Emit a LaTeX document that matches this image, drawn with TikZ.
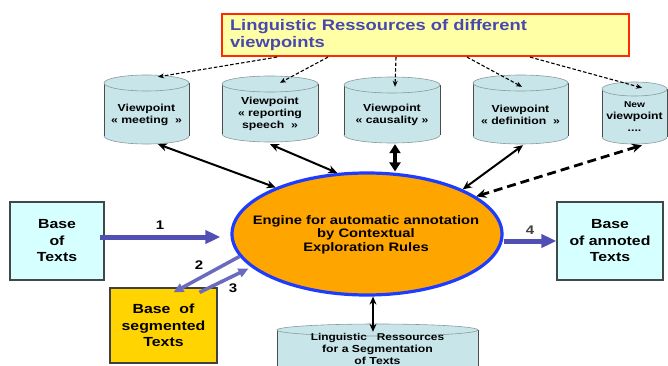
\documentclass[tikz,border=0pt]{standalone}
\usepackage{fontspec}
\newfontfamily\af[FakeStretch=1.2]{Liberation Sans}
\usetikzlibrary{shapes.geometric,arrows.meta,calc}
\definecolor{topfill}{HTML}{FFFFA5}
\definecolor{topline}{HTML}{FF2A00}
\definecolor{toptext}{HTML}{4848B0}
\definecolor{cylfill}{HTML}{C8E6EA}
\definecolor{cylborder}{HTML}{8A9A9C}
\definecolor{boxfill}{HTML}{D6FFFF}
\definecolor{boxline}{HTML}{404848}
\definecolor{segfill}{HTML}{FFD400}
\definecolor{engfill}{HTML}{FFA500}
\definecolor{engline}{HTML}{1E3CFF}
\definecolor{barrow}{HTML}{5050B4}
\newcommand\cyl[8]{%
  \node[cylend, minimum width=#5pt, minimum height=#6pt] at (#2,{#4-#6/2}) {};
  \fill[cylfill] ({#2-#5/2},{#3+#6/2}) rectangle ({#2+#5/2},{#4-#6/2});
  \draw[cylside] ({#2-#5/2},{#3+#6/2}) -- ({#2-#5/2},{#4-#6/2}) ({#2+#5/2},{#3+#6/2}) -- ({#2+#5/2},{#4-#6/2});
  \node[cylend, minimum width=#5pt, minimum height=#6pt] at (#2,{#3+#6/2}) {};
  \node[inner sep=0pt, minimum width=#5pt, minimum height={(#4-#3)*1pt}] (#1) at (#2,{(#3+#4)/2}) {};
  \node[cyltext] (#1t) at (#2,#8) {#7};
}
\begin{document}
\begin{tikzpicture}[x=1pt,y=-1pt,
  cylend/.style={ellipse, draw=cylborder, fill=cylfill, line width=0.6pt, inner sep=0pt},
  cylside/.style={draw=black!70, line width=0.8pt},
  cyltext/.style={align=center, inner sep=0pt, font=\af\bfseries\fontsize{10.2}{12}\selectfont},
  box/.style={draw=boxline, line width=1.2pt, fill=boxfill, align=center, inner sep=0pt,
    font=\af\bfseries\fontsize{13.2}{16.5}\selectfont},
  blk/.style={draw=black, line width=2pt, {Stealth[length=9pt,width=8pt]}-{Stealth[length=9pt,width=8pt]}},
  dots/.style={draw=black, line width=1.1pt, dash pattern=on 3.5pt off 2pt, -{Stealth[length=6pt,width=5pt]}},
  bluearr/.style={draw=barrow, line width=5pt, -{Triangle[length=15pt,width=13pt]}},
  bluethin/.style={draw=barrow!85, line width=3.5pt, -{Triangle[length=10pt,width=9pt]}},
  lbl/.style={inner sep=0pt, font=\af\bfseries\fontsize{12.5}{14}\selectfont}]
\useasboundingbox (0,0) rectangle (668,366);

% top box
\node[draw=topline, line width=2.2pt, fill=topfill, minimum width=407pt, minimum height=42pt,
  text width=391pt, inner xsep=8pt, inner ysep=0pt, align=left, text=toptext,
  font=\af\bfseries\fontsize{15.3}{17.5}\selectfont] (top) at (425.5,35)
  {Linguistic Ressources of different\\viewpoints};

% cylinders
\cyl{c1}{146.5}{75}{144}{85}{16}{Viewpoint\\« meeting~~»}{115}
\cyl{c2}{270}{76}{142}{96}{16}{Viewpoint\\« reporting\\speech~~»}{114}
\cyl{c3}{392}{77}{143}{96}{16}{Viewpoint\\« causality »}{115}
\cyl{c4}{520.5}{75}{144}{95}{16}{Viewpoint\\« definition~~»}{115}
\cyl{c5}{634.5}{82}{144}{65}{14}{\fontsize{8.5}{11}\selectfont New\\viewpoint\\....}{117}
\cyl{cb}{377.5}{324}{430}{201}{12}{\fontsize{9.9}{12}\selectfont Linguistic~~ Ressources\\for a Segmentation\\of Texts}{348.5}

% engine
\node[ellipse, draw=engline, line width=3.2pt, fill=engfill, minimum width=270pt, minimum height=122pt,
  inner sep=0pt] (eng) at (367,234) {};
\node[align=center, inner sep=0pt, font=\af\bfseries\fontsize{12.3}{13.5}\selectfont] (engt) at (366,234.5)
  {Engine for automatic annotation\\by Contextual\\Exploration Rules};

% boxes
\node[box, minimum width=94pt, minimum height=78pt] (bt) at (57,241) {Base\\of\\Texts};
\node[box, minimum width=106pt, minimum height=78pt] (ba) at (610,241) {Base\\of annoted\\Texts};
\node[box, fill=segfill, draw=black!75, minimum width=107pt, minimum height=75pt] (bs) at (163.5,325.5) {Base~ of\\segmented\\Texts};

% dotted arrows from top box
\draw[dots] ([xshift=-148.5pt]top.south) -- ([shift={(11.5pt,-2pt)}]c1.north);
\draw[dots] ([xshift=-97.5pt]top.south) -- ([shift={(10pt,-7pt)}]c2.north);
\draw[dots] ([xshift=-29.5pt]top.south) -- ([shift={(3pt,-10pt)}]c3.north);
\draw[dots] ([xshift=41.5pt]top.south) -- ([shift={(1.5pt,-12pt)}]c4.north);
\draw[dots] ([xshift=104.5pt]top.south) -- ([shift={(7.5pt,-6pt)}]c5.north);

% black arrows between viewpoints and engine
\draw[blk] ([xshift=11.5pt]c1.south) -- (eng.153);
\draw[blk] ([yshift=-2pt]c2.south) -- (eng.116);
\draw[draw=black, line width=4pt, {Triangle[length=9pt,width=11pt]}-{Triangle[length=9pt,width=11pt]}]
  ([shift={(3pt,-1pt)}]c3.south) -- ([xshift=3pt]c3.south |- eng.north);
\draw[blk] ([shift={(2.5pt,-1pt)}]c4.south) -- (eng.25);
\draw[draw=black, line width=2.8pt, dash pattern=on 9pt off 5pt,
  {Stealth[length=10pt,width=9pt]}-{Stealth[length=10pt,width=9pt]}]
  ([shift={(7.5pt,-1pt)}]c5.south) -- (eng.19);
\draw[draw=black, line width=2.4pt, {Stealth[length=8pt,width=7pt]}-{Stealth[length=8pt,width=7pt]}]
  ([xshift=6pt]eng.south) -- ([shift={(6pt,-8pt)}]eng.south |- cb.north);

% blue arrows
\draw[bluearr, shorten >=5pt] ([shift={(-5pt,4pt)}]bt.east) -- ([shift={(-5pt,4pt)}]bt.east -| eng.west);
\draw[bluearr] (eng.east |- ba.west) -- (ba.west);
\draw[bluethin] (eng.190) -- ([shift={(10pt,-5pt)}]bs.north);
\draw[bluethin, shorten >=3pt] ([shift={(36pt,-5pt)}]bs.north) -- (eng.196);

% labels
\node[lbl] (l1) at (160,225) {1};
\node[lbl] (l2) at (199,265) {2};
\node[lbl] (l3) at (233,288) {3};
\node[lbl, text=black!75] (l4) at (530,230) {4};
\end{tikzpicture}
\end{document}
